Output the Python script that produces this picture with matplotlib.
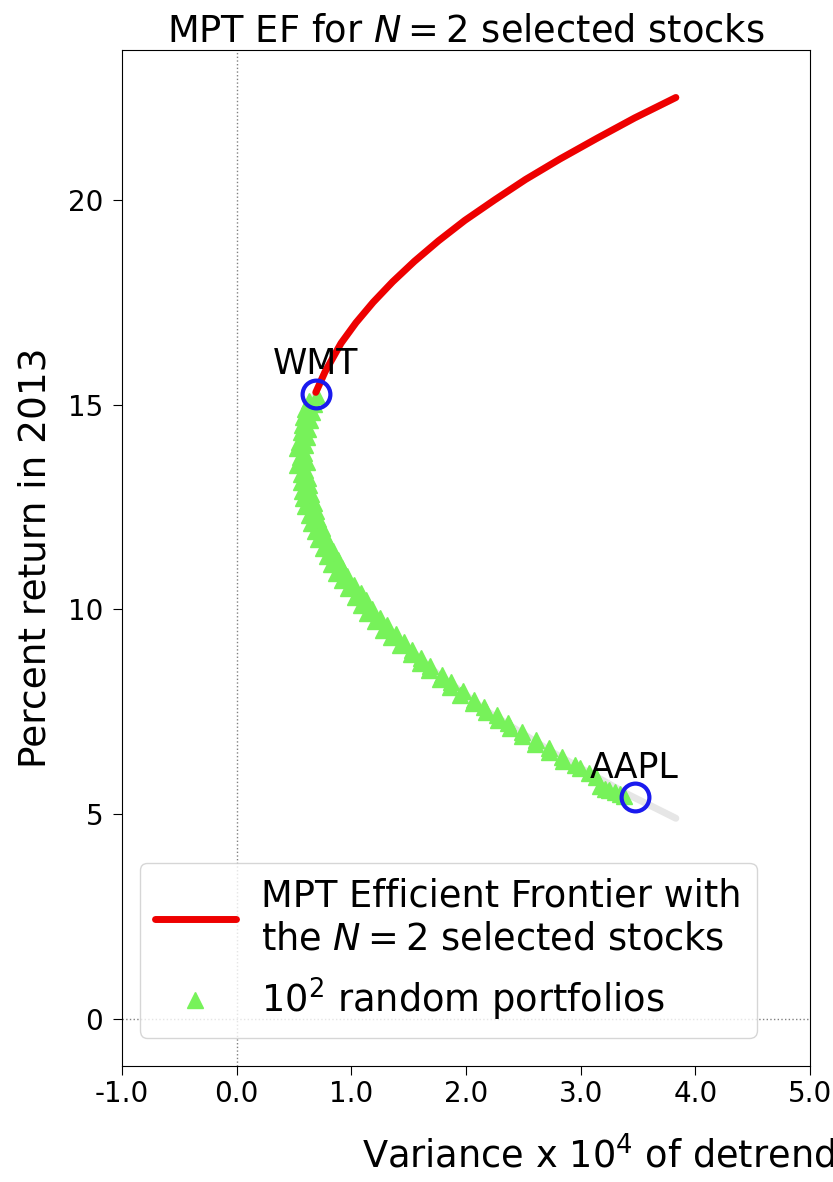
import numpy as np
import matplotlib
matplotlib.use("Agg")
import matplotlib.pyplot as plt

# 효율적 투자선 (수익률, 분산 x 10^4) - 그림에서 읽은 값
ef_ret = [4.9, 5.5, 6.5, 7.5, 8.5, 9.5, 10.5, 11.5, 12.5, 13.1, 13.7, 14.3, 14.8, 15.3,
          15.8, 16.5, 17.0, 17.5, 18.0, 18.5, 19.0, 19.5, 20.0, 20.5, 21.0, 21.5, 22.0, 22.5]
ef_var = [3.83, 3.40, 2.76, 2.19, 1.72, 1.32, 1.01, 0.78, 0.64, 0.60, 0.58, 0.60, 0.63, 0.69,
          0.77, 0.91, 1.04, 1.19, 1.36, 1.55, 1.76, 1.99, 2.25, 2.52, 2.82, 3.14, 3.47, 3.83]
eff_from = 13  # 15.3 이상이 효율적 구간 (빨간선)

# 랜덤 포트폴리오 (10^2 개)
rand_ret = [15.21, 15.08, 15.02, 14.90, 14.81, 14.70, 14.63, 14.51, 14.40, 14.33,
            14.22, 14.10, 14.02, 13.93, 13.81, 13.72, 13.60, 13.52, 13.41, 13.30,
            13.22, 13.11, 13.03, 12.90, 12.81, 12.72, 12.60, 12.53, 12.41, 12.30,
            12.21, 12.12, 12.00, 11.91, 11.80, 11.73, 11.62, 11.50, 11.42, 11.31,
            11.20, 11.12, 11.01, 10.90, 10.82, 10.71, 10.60, 10.52, 10.40, 10.31,
            10.22, 10.10, 10.02, 9.91, 9.80, 9.72, 9.61, 9.50, 9.41, 9.33,
            9.20, 9.12, 9.01, 8.90, 8.82, 8.70, 8.62, 8.51, 8.40, 8.31,
            8.22, 8.10, 8.01, 7.92, 7.80, 7.71, 7.62, 7.50, 7.41, 7.30,
            7.22, 7.11, 7.00, 6.91, 6.80, 6.72, 6.61, 6.52, 6.40, 6.31,
            6.20, 6.12, 6.01, 5.90, 5.70, 5.62, 5.58, 5.55, 5.50, 5.45]
rand_var = [0.70, 0.63, 0.67, 0.60, 0.66, 0.58, 0.64, 0.57, 0.62, 0.56,
            0.61, 0.54, 0.60, 0.53, 0.59, 0.55, 0.61, 0.53, 0.60, 0.56,
            0.62, 0.56, 0.63, 0.57, 0.65, 0.58, 0.67, 0.60, 0.69, 0.63,
            0.71, 0.65, 0.74, 0.68, 0.77, 0.71, 0.80, 0.75, 0.84, 0.79,
            0.88, 0.82, 0.92, 0.87, 0.96, 0.92, 1.02, 0.97, 1.08, 1.03,
            1.13, 1.08, 1.18, 1.14, 1.25, 1.21, 1.31, 1.28, 1.39, 1.35,
            1.46, 1.42, 1.53, 1.52, 1.61, 1.60, 1.69, 1.68, 1.79, 1.77,
            1.87, 1.86, 1.97, 1.95, 2.07, 2.06, 2.16, 2.17, 2.27, 2.28,
            2.37, 2.38, 2.49, 2.49, 2.61, 2.60, 2.72, 2.72, 2.84, 2.85,
            2.95, 2.99, 3.07, 3.13, 3.17, 3.21, 3.25, 3.30, 3.34, 3.38]

# 개별 종목
stock_names = ["WMT", "AAPL"]
stock_var = [0.69, 3.47]
stock_ret = [15.27, 5.42]

xticks = [-1.0, 0.0, 1.0, 2.0, 3.0, 4.0, 5.0]
yticks = [0, 5, 10, 15, 20]


def main():
    fig = plt.figure(figsize=(8.33, 11.82), dpi=100)
    ax = fig.add_axes([0.1465, 0.0981, 0.8259, 0.8596])

    ax.axvline(0, color="gray", ls=":", lw=1)
    ax.axhline(0, color="gray", ls=":", lw=1)

    # 전체 곡선 (회색) 과 효율적 구간 (빨간색)
    ax.plot(ef_var, ef_ret, color="#e6e6e6", lw=5, solid_capstyle="round", zorder=2)
    ax.plot(rand_var, rand_ret, ls="none", marker="^", ms=12, color="#77f25a",
            mec="#77f25a", label="$10^2$ random portfolios", zorder=3)
    ax.plot(ef_var[eff_from:], ef_ret[eff_from:], color="#ee0000", lw=5,
            solid_capstyle="round", label="MPT Efficient Frontier with\nthe $N=2$ selected stocks",
            zorder=4)

    ax.plot(stock_var, stock_ret, ls="none", marker="o", ms=20, mfc="none",
            mec="#1a1aee", mew=3, zorder=5)
    for name, v, r in zip(stock_names, stock_var, stock_ret):
        ax.text(v, r + 0.3, name, ha="center", va="bottom", fontsize=25, zorder=6)

    ax.set_xlim(-1, 5)
    ax.set_ylim(-1.15, 23.66)
    ax.set_xticks(xticks)
    ax.set_xticklabels(["%.1f" % t for t in xticks])
    ax.set_yticks(yticks)
    ax.tick_params(labelsize=20, length=6.5)
    ax.tick_params(axis="y", pad=7)

    ax.set_title("MPT EF for $N=2$ selected stocks", fontsize=26.5, pad=6)
    ax.set_ylabel("Percent return in 2013", fontsize=27)
    ax.yaxis.set_label_coords(-0.10, 0.5)
    ax.set_xlabel("Variance x $10^4$ of detrended daily returns", fontsize=26.5,
                  ha="left")
    ax.xaxis.set_label_coords((362 - 122) / 688, -0.064)

    handles, labels = ax.get_legend_handles_labels()
    ax.legend(handles[::-1], labels[::-1], loc="lower left",
              bbox_to_anchor=(0.026, 0.028), fontsize=26.5, handlelength=2.2,
              handletextpad=0.7, framealpha=0.8, borderaxespad=0)

    fig.savefig("out.png", dpi=100)


if __name__ == "__main__":
    main()
